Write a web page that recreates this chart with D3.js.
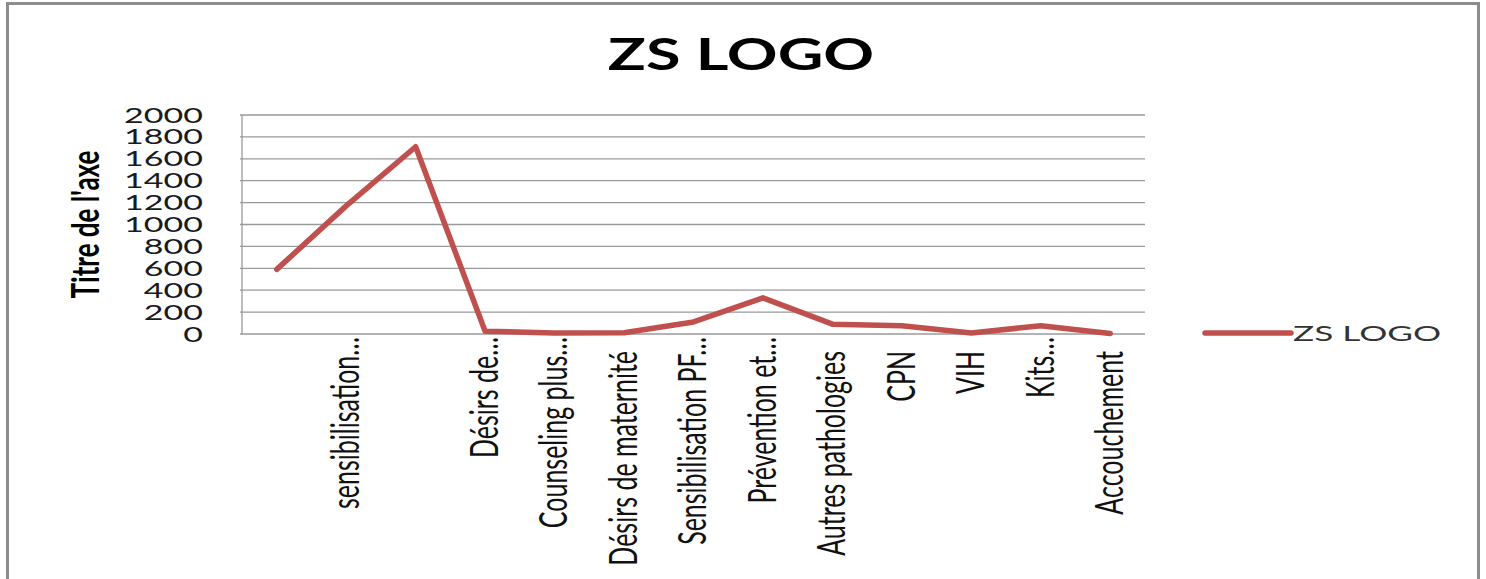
<!DOCTYPE html>
<html>
<head>
<meta charset="utf-8">
<script src="https://cdn.jsdelivr.net/npm/d3@7"></script>
<style>
  html, body { margin: 0; padding: 0; background: #fff; }
  svg { display: block; font-family: Lato, "Open Sans", sans-serif; }
</style>
</head>
<body>
<svg id="chart" width="1486" height="579"></svg>
<script>
// chart data
var title = "ZS LOGO";
var seriesName = "ZS LOGO";
var axisTitle = "Titre de l'axe";
var categories = ["", "sensibilisation…", "", "Désirs de…", "Counseling plus…",
  "Désirs de maternité", "Sensibilisation PF…", "Prévention et…",
  "Autres pathologies", "CPN", "VIH", "Kits…", "Accouchement"];
var values = [590, 1170, 1710, 25, 10, 12, 110, 330, 90, 75, 10, 75, 5];
var yTicks = [0, 200, 400, 600, 800, 1000, 1200, 1400, 1600, 1800, 2000];

var LINE = "#c0504d", GRID = "#9a9a9a";
var SX = 1.55; // the picture is stretched sideways

var svg = d3.select("#chart");
var plot = { left: 242, right: 1145, top: 115, bottom: 334 };

// outer frame
svg.append("rect").attr("x", 7.5).attr("y", 3.5).attr("width", 1471).attr("height", 590)
  .attr("fill", "none").attr("stroke", "#8c8c8c").attr("stroke-width", 3);

var x = d3.scaleBand().domain(d3.range(categories.length)).range([plot.left, plot.right]);
var y = d3.scaleLinear().domain([0, 2000]).range([plot.bottom, plot.top]);

// gridlines
svg.append("g").selectAll("line").data(yTicks).enter().append("line")
  .attr("x1", plot.left - 2).attr("x2", plot.right)
  .attr("y1", function(d) { return y(d); }).attr("y2", function(d) { return y(d); })
  .attr("stroke", GRID).attr("stroke-width", 1.3);

// left axis line
svg.append("line").attr("x1", plot.left).attr("x2", plot.left)
  .attr("y1", plot.top).attr("y2", plot.bottom)
  .attr("stroke", GRID).attr("stroke-width", 1.3);

// y tick labels
svg.append("g").selectAll("text").data(yTicks).enter().append("text")
  .attr("transform", function(d) { return "translate(203," + y(d) + ") scale(1.62,1)"; })
  .attr("dy", "0.36em").attr("text-anchor", "end")
  .style("font-size", "21px").style("fill", "#1a1a1a")
  .text(function(d) { return d; });

// category labels, rotated; cut labels sit a bit closer to the axis
svg.append("g").selectAll("text").data(categories).enter().append("text")
  .attr("transform", function(d, i) {
    var gap = /…$/.test(d) ? 3 : 17;
    return "translate(" + (x(i) + x.bandwidth() / 2) + "," + (plot.bottom + gap) + ") scale(" + SX + ",1) rotate(-90)";
  })
  .attr("dy", "0.33em").attr("text-anchor", "end")
  .style("font-size", "25px").style("fill", "#111")
  .text(function(d) { return d; });

// axis title
svg.append("text")
  .attr("transform", "translate(99," + ((plot.top + plot.bottom) / 2) + ") scale(1.45,1) rotate(-90)")
  .attr("text-anchor", "middle")
  .style("font-size", "26px").style("font-weight", "bold").style("fill", "#000")
  .text(axisTitle);

// chart title
svg.append("text")
  .attr("transform", "translate(741,70) scale(1.43,1)")
  .attr("text-anchor", "middle")
  .style("font-size", "44px").style("font-weight", "bold").style("fill", "#000")
  .text(title);

// the series line
var line = d3.line()
  .x(function(d, i) { return x(i) + x.bandwidth() / 2; })
  .y(function(d) { return y(d); });

svg.append("path").datum(values)
  .attr("d", line)
  .attr("fill", "none").attr("stroke", LINE).attr("stroke-width", 5.5)
  .attr("stroke-linejoin", "round").attr("stroke-linecap", "round");

// legend
var legend = svg.append("g").attr("transform", "translate(1205,333)");
legend.append("line").attr("x1", 0).attr("x2", 86).attr("y1", 0).attr("y2", 0)
  .attr("stroke", LINE).attr("stroke-width", 5.5).attr("stroke-linecap", "round");
legend.append("text")
  .attr("transform", "translate(88,0) scale(1.6,1)")
  .attr("dy", "0.36em")
  .style("font-size", "22px").style("fill", "#333")
  .text(seriesName);
</script>
</body>
</html>
